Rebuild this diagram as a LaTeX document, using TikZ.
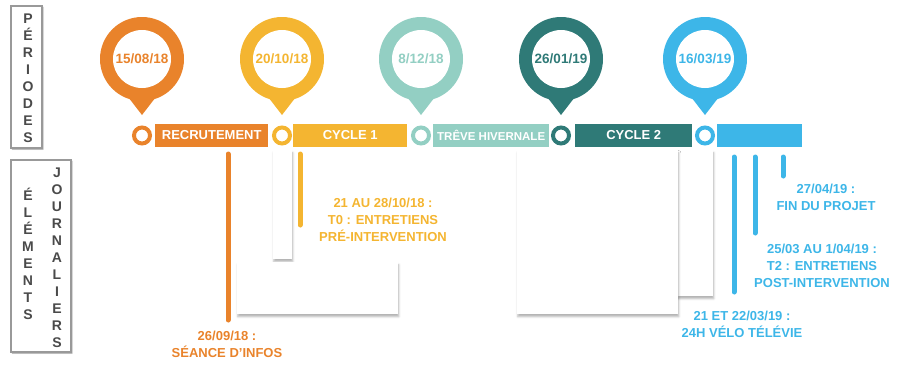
\documentclass[tikz,border=0pt]{standalone}
\usepackage{fontspec}
\setmainfont{Liberation Sans}
\usetikzlibrary{shadows.blur}

\definecolor{orangeR}{HTML}{E9832B}
\definecolor{jauneC}{HTML}{F4B531}
\definecolor{vertT}{HTML}{93CFC3}
\definecolor{petrole}{HTML}{2F7A77}
\definecolor{bleuC}{HTML}{3DB6E8}
\definecolor{grisL}{HTML}{4A4A4A}

% jalon : #1 nom, #2 abscisse, #3 couleur, #4 date
\newcommand{\jalon}[4]{
    \fill [#3] (#2,59) circle (42pt);
    \fill [#3] (#2-17,93) -- (#2+17,93) -- (#2,115) -- cycle;
    \node [circle, fill=white, minimum size=58pt, text=#3] (#1) at (#2,59) {#4};
    \node [circle, draw=#3, line width=4pt, fill=white, minimum size=16pt] (#1anneau) at (#2,135.5) {};
}

\begin{document}
\begin{tikzpicture}[x=1pt,y=-1pt,
    every node/.style={inner sep=0pt, font=\bfseries\fontsize{13.5}{15}\selectfont},
    barre/.style={anchor=west, minimum height=23pt, text=white, font=\bfseries\fontsize{13}{15}\selectfont},
    cadre/.style={draw=gray!80, fill=white, line width=1.2pt,
        blur shadow={shadow xshift=1pt, shadow yshift=-1pt, shadow blur radius=1pt, shadow opacity=35}},
    cache/.style={fill=white, blur shadow={shadow xshift=0.6pt, shadow yshift=-2.5pt,
        shadow blur radius=2pt, shadow opacity=30}},
    tige/.style={line width=5pt, line cap=round},
    lettres/.style={align=center, text=grisL, font=\bfseries\fontsize{14}{17}\selectfont},
    legende/.style={align=center, font=\bfseries\fontsize{13}{17}\selectfont}]
    \useasboundingbox (0,0) rectangle (908,367);

    % cadres de gauche
    \node [cadre, minimum width=31pt, minimum height=142pt] (periodes) at (26.5,77) {};
    \node [lettres] (periodestxt) at (28,78) {P\\É\\R\\I\\O\\D\\E\\S};
    \node [cadre, minimum width=60pt, minimum height=192pt] (elements) at (41,256) {};
    \node [lettres] (elementstxt) at (28,254) {É\\L\\É\\M\\E\\N\\T\\S};
    \node [lettres] (journaliers) at (57,258) {J\\O\\U\\R\\N\\A\\L\\I\\E\\R\\S};

    % jalons
    \jalon{j1}{142}{orangeR}{15/08/18}
    \jalon{j2}{282}{jauneC}{20/10/18}
    \jalon{j3}{421}{vertT}{8/12/18}
    \jalon{j4}{561}{petrole}{26/01/19}
    \jalon{j5}{705}{bleuC}{16/03/19}

    % periodes
    \node [barre, fill=orangeR, minimum width=113pt] (recrut) at (155,135.5) {RECRUTEMENT};
    \node [barre, fill=jauneC, minimum width=114pt] (cycle1) at (293,135.5) {CYCLE 1};
    \node [barre, fill=vertT, minimum width=116pt, font=\bfseries\fontsize{11.5}{13}\selectfont] (treve) at (433,135.5) {TRÊVE HIVERNALE};
    \node [barre, fill=petrole, minimum width=117pt] (cycle2) at (575,135.5) {CYCLE 2};
    \node [barre, fill=bleuC, minimum width=85pt] (fin) at (717,135.5) {};

    % caches blancs
    \node [cache, anchor=north west, minimum width=19pt, minimum height=109pt] (cacheA) at (273,150) {};
    \node [cache, anchor=north west, minimum width=161pt, minimum height=52pt] (cacheB) at (237,262) {};
    \node [cache, anchor=north west, minimum width=36pt, minimum height=146pt] (cacheD) at (677,150) {};
    \node [cache, anchor=north west, minimum width=161pt, minimum height=164pt] (cacheC) at (517,150) {};

    % elements journaliers
    \draw [tige, orangeR] (228,154) -- (228,320);
    \draw [tige, jauneC] (300,154) -- (300,225);
    \draw [tige, bleuC] (734,157) -- (734,292);
    \draw [tige, bleuC] (755,157) -- (755,233);
    \draw [tige, bleuC] (783,157) -- (783,176);

    \node [legende, text=orangeR] (seance) at (227,344.5) {26/09/18 :\\SÉANCE D’INFOS};
    \node [legende, text=jauneC] (t0) at (383,220) {21 AU 28/10/18 :\\T0 : ENTRETIENS\\PRÉ-INTERVENTION};
    \node [legende, text=bleuC] (velo) at (742,324.5) {21 ET 22/03/19 :\\24H VÉLO TÉLÉVIE};
    \node [legende, text=bleuC] (t2) at (822,266) {25/03 AU 1/04/19 :\\T2 : ENTRETIENS\\POST-INTERVENTION};
    \node [legende, text=bleuC] (finprojet) at (826,197.5) {27/04/19 :\\FIN DU PROJET};
\end{tikzpicture}
\end{document}
